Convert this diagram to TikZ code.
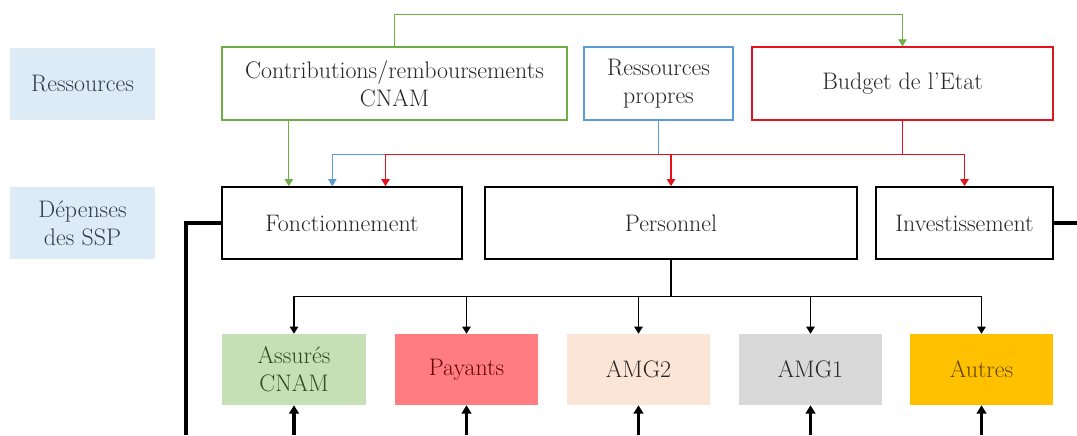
\documentclass[tikz,border=0pt]{standalone}
\usepackage{tikz}
\usetikzlibrary{arrows.meta,calc}

\definecolor{labfill}{RGB}{221,235,247}
\definecolor{labtext}{RGB}{50,60,75}
\definecolor{boxtext}{RGB}{40,38,38}
\definecolor{cgreen}{RGB}{112,173,71}
\definecolor{cblue}{RGB}{91,155,213}
\definecolor{cred}{RGB}{225,20,30}
\definecolor{fassur}{RGB}{197,224,180}
\definecolor{tassur}{RGB}{45,75,28}
\definecolor{fpay}{RGB}{255,124,128}
\definecolor{tpay}{RGB}{100,5,5}
\definecolor{famg2}{RGB}{251,229,214}
\definecolor{famg1}{RGB}{217,217,217}
\definecolor{fautres}{RGB}{255,192,0}
\definecolor{tautres}{RGB}{95,70,0}

\begin{document}
\begin{tikzpicture}[x=0.025cm, y=-0.025cm,
    every node/.style={font=\fontsize{17}{20}\selectfont, align=center, inner sep=0pt},
    labelbox/.style={fill=labfill, text=labtext, minimum width=3.625cm, minimum height=1.8cm},
    resbox/.style={draw=#1, line width=1pt, fill=white, text=boxtext, minimum height=1.825cm},
    depbox/.style={draw=black, line width=1.2pt, text=boxtext, minimum height=1.8cm},
    catbox/.style={fill=#1, minimum width=3.575cm, minimum height=1.775cm},
    conn/.style={draw=#1, line width=0.8pt, -{Triangle[width=6pt,length=5pt]}},
    heavy/.style={line width=2.4pt},
    uparrow/.style={line width=2.4pt, -{Triangle[width=7pt,length=6pt]}}]

    \useasboundingbox (0,0) rectangle (1077,435);

    \node[labelbox] (reslab) at (82.5,84)  {Ressources};
    \node[labelbox] (deplab) at (82.5,223) {Dépenses\\des SSP};

    \node[resbox=cgreen, minimum width=8.625cm] (contrib) at (394.5,83.5) {Contributions/remboursements\\CNAM};
    \node[resbox=cblue,  minimum width=3.725cm] (propres) at (658.5,83.5) {Ressources\\propres};
    \node[resbox=cred,   minimum width=7.525cm] (budget)  at (902.5,83.5) {Budget de l'Etat};

    \node[depbox, minimum width=6cm]     (fonc) at (342,223)   {Fonctionnement};
    \node[depbox, minimum width=9.3cm]   (pers) at (671,223)   {Personnel};
    \node[depbox, minimum width=4.425cm] (inv)  at (964.5,223) {Investissement};

    \node[catbox=fassur,  text=tassur]  (assur)  at (294,369.5)   {Assurés\\CNAM};
    \node[catbox=fpay,    text=tpay]    (pay)    at (466.5,369.5) {Payants};
    \node[catbox=famg2,   text=boxtext] (amgdeux) at (638.5,369.5) {AMG2};
    \node[catbox=famg1,   text=boxtext] (amgun)  at (810.5,369.5) {AMG1};
    \node[catbox=fautres, text=tautres] (autres) at (981.5,369.5) {Autres};

    \coordinate (fg) at ($(fonc.north west)!0.28!(fonc.north east)$);
    \coordinate (fb) at ($(fonc.north west)!0.46!(fonc.north east)$);
    \coordinate (fr) at ($(fonc.north west)!0.68!(fonc.north east)$);
    \coordinate (fend) at (186,435);
    \coordinate (iend) at (1077,223);

    \draw[conn=cgreen] (contrib.north) -- ++(up:8mm) -| (budget.north);
    \draw[conn=cgreen] (contrib.south -| fg) -- (fg);
    \draw[conn=cblue]  (propres.south) -- ++(down:8.5mm) -| (fb);
    \draw[conn=cred]   (budget.south) -- ++(down:8.5mm) coordinate (rj) -| (fr);
    \draw[conn=cred]   (rj) -| (pers.north);
    \draw[conn=cred]   (rj) -| (inv.north);

    \draw[conn=black] (pers.south) -- ++(down:9.25mm) coordinate (pj) -| (assur.north);
    \foreach \b in {pay,amgdeux,amgun,autres}
        \draw[conn=black] (pj) -| (\b.north);

    \draw[heavy] (fonc.west) -| (fend);
    \draw[heavy] (inv.east) -- (iend);
    \foreach \b in {assur,pay,amgdeux,amgun,autres}
        \draw[uparrow] (\b.south) ++(down:7.5mm) -- (\b.south);
\end{tikzpicture}
\end{document}
